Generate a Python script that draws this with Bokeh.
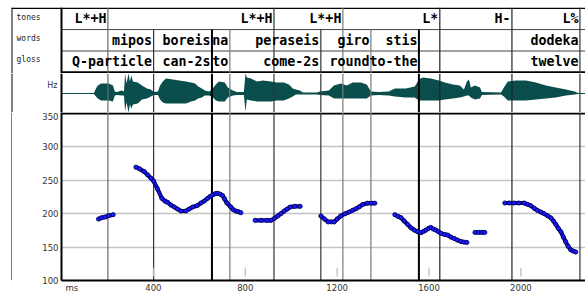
from bokeh.plotting import figure
from bokeh.layouts import column, row
from bokeh.models import Range1d, FixedTicker
from bokeh.core.properties import value
from bokeh.embed import file_html
from bokeh.resources import INLINE

# ---------------- data ----------------
TIER_NAMES = ["tones", "words", "gloss"]

TONE_LABELS = ["L*+H", "L*+H", "L*+H", "L*", "H-", "L%"]
TONE_TIMES = [202, 925, 1225, 1647, 1961, 2257]

WORD_LABELS = ["mipos", "boreis", "na", "peraseis", "giro", "stis", "dodeka"]
WORD_ENDS = [401, 655, 733, 1129, 1347, 1556, 2257]

GLOSS_LABELS = ["Q-particle", "can-2s", "to", "come-2s", "round", "to-the", "twelve"]
GLOSS_ENDS = [401, 655, 733, 1129, 1347, 1556, 2257]

WORD_BOUNDARIES = [401, 655, 733, 1129, 1347, 1556]

# waveform envelope (ms, upper amplitude, lower amplitude)
WAVE_MS = [0, 141, 150, 158, 172, 206, 224, 232, 241, 263, 272, 277, 283, 292, 298, 304,
           311, 332, 350, 372, 389, 402, 420, 429, 441, 455, 485, 512, 542, 564, 582, 595,
           611, 624, 642, 655, 672, 685, 711, 724, 746, 764, 794, 801, 807, 825, 851, 877,
           912, 938, 968, 990, 1007, 1020, 1038, 1051, 1112, 1125, 1164, 1186, 1216, 1242,
           1268, 1303, 1329, 1347, 1381, 1425, 1451, 1499, 1538, 1556, 1573, 1608, 1643,
           1669, 1704, 1734, 1752, 1765, 1774, 1782, 1800, 1822, 1830, 1913, 1926, 1943,
           1978, 2022, 2065, 2109, 2152, 2196, 2235, 2248, 2283]
WAVE_TOP = [0.5, 0.5, 5, 8, 10, 10, 8, 2, 1.5, 3, 2, 20, 10, 20, 12, 18,
            12, 11, 8, 5, 4, 1.5, 2, 8, 12, 15, 14, 13, 12, 11, 10, 7,
            5, 3, 2, 4, 9, 12, 11, 6, 3, 1.5, 1.5, 20, 16, 15, 12, 13,
            12, 11, 11, 9, 5, 4, 3, 1, 1, 2, 3, 8, 10, 8,
            11, 11, 9, 2, 1.5, 2, 5, 5, 7, 14, 16, 15, 13,
            11, 9, 8, 4, 12, 14, 6, 8, 6, 1.5, 1, 6, 12,
            13, 13, 11, 8, 6, 4, 2, 0.5, 0.5]
WAVE_BOT = [0.5, 0.5, 3, 5, 7, 7, 8, 2, 1.5, 2, 2, 18, 9, 19, 11, 15,
            11, 10, 6, 5, 3, 1.5, 1.5, 6, 9, 10, 10, 10, 10, 8, 7, 5,
            4, 2, 2, 3, 7, 8, 8, 4, 2, 1.5, 1.5, 18, 6, 7, 8, 8,
            8, 7, 7, 5, 3, 1, 1, 1, 1, 1.5, 2, 5, 5, 5,
            5, 5, 5, 2, 1.5, 2, 3, 4, 4, 7, 7, 7, 7,
            6, 5, 4, 3, 2, 2, 4, 6, 5, 1.5, 1, 3, 7,
            7, 7, 6, 5, 4, 2, 1, 0.5, 0.5]

# pitch track (ms, Hz), one pair of lists per voiced stretch
F0_1_MS = [161, 175, 190, 205, 225]
F0_1_HZ = [192, 194, 195, 197, 198.5]
F0_2_MS = [324, 340, 360, 375, 390, 401, 418, 437, 450, 462, 476, 491, 505, 520, 541, 556,
           571, 590, 607, 622, 636, 648, 658, 670, 680, 692, 701, 710, 720, 737, 748, 759,
           770, 781]
F0_2_HZ = [269.6, 267, 263, 258, 253, 249, 237, 223, 219, 217, 213, 210, 207, 204, 204, 207,
           210, 212, 216, 219, 223, 226, 228, 230, 230.5, 229, 227, 222, 216, 210, 206, 204,
           203, 201.5]
F0_3_MS = [843, 870, 895, 912, 927, 941, 955, 970, 983, 996, 1015, 1039]
F0_3_HZ = [190, 190, 190, 190, 193, 196.6, 200, 204, 207, 210, 211, 211]
F0_4_MS = [1129, 1145, 1161, 1175, 1187, 1200, 1216, 1235, 1252, 1267, 1282, 1297, 1311,
           1332, 1350, 1364]
F0_4_HZ = [196.6, 192, 187.7, 187.7, 187.7, 192, 196.6, 200, 202.5, 205, 207.4, 210.5,
           213.7, 215.7, 215.7, 215.7]
F0_5_MS = [1451, 1465, 1478, 1492, 1507, 1521, 1536, 1550, 1565, 1576, 1587, 1598, 1608,
           1619, 1630, 1641, 1652, 1667, 1681, 1695, 1709, 1724, 1739, 1752, 1765]
F0_5_HZ = [198.5, 196, 194, 189, 184, 179, 175.5, 173, 171.6, 173.5, 175.5, 178, 179.4,
           177, 175.5, 173, 170.6, 169, 168, 165, 163, 160.5, 158.4, 157.5, 157]
F0_6_MS = [1800, 1815, 1830, 1843]
F0_6_HZ = [172, 172, 172, 172]
F0_7_MS = [1930, 1950, 1970, 1990, 2014, 2029, 2043, 2058, 2072, 2087, 2101, 2116, 2131,
           2142, 2152, 2163, 2174, 2185, 2195, 2206, 2217, 2228, 2239]
F0_7_HZ = [216, 216, 216, 216, 216, 214, 212, 208, 205, 202.5, 200, 197, 193.6, 189, 184,
           178, 173, 165, 158, 151, 146, 144, 142.6]

HZ_TICKS = [100, 150, 200, 250, 300, 350]
MS_TICKS = [400, 800, 1200, 1600, 2000]

# ---------------- layout constants / styles ----------------
PX_PER_MS = 0.2297
LABEL_COL = 50
PLOT_W = 524
X_LEFT = -LABEL_COL / PX_PER_MS
X_RIGHT = PLOT_W / PX_PER_MS
PITCH_FRAME_H = 171
HZ_PER_PX = 1 / 0.68
HZ_TOP = 100 + PITCH_FRAME_H * HZ_PER_PX

TONE_COLORS = ["#6a6a6a", "#333333", "#7a7a7a", "#222222", "#222222", "#333333"]
TONE_WIDTHS = [1.2, 1.2, 1.2, 1.2, 1.2, 1.2]
WORD_COLORS = ["#333333", "#000000", "#7a7a7a", "#333333", "#7a7a7a", "#000000"]
WORD_WIDTHS = [1.2, 2, 1.2, 1.2, 1.2, 2]

MONO = value("DejaVu Sans Mono")
SANS = value("DejaVu Sans")
WAVE_COLOR = "#0a4d4d"


def base(width, height, x_range, y_range):
    p = figure(width=width, height=height, x_range=x_range, y_range=y_range,
               output_backend="svg", toolbar_location=None,
               x_axis_type=None, y_axis_type=None)
    p.min_border = 0
    p.outline_line_color = None
    p.background_fill_color = "white"
    p.border_fill_color = "white"
    p.grid.visible = False
    return p


# ---------------- tiers ----------------
T_Y0, T_Y1 = -0.05, 3.03
tier = base(585, 73, Range1d(X_LEFT, X_RIGHT), Range1d(T_Y0, T_Y1))
tier.min_border_left = 11
tier.min_border_top = 7
tier.segment(x0=[X_LEFT], y0=[3], x1=[X_RIGHT], y1=[3], line_color="black", line_width=1.5)
tier.segment(x0=[X_LEFT], y0=[T_Y0], x1=[X_LEFT], y1=[T_Y1], line_color="black", line_width=2)
tier.segment(x0=[0, 0], y0=[1, 2], x1=[X_RIGHT, X_RIGHT], y1=[1, 2], line_color="#444444", line_width=1)
tier.segment(x0=[0], y0=[0], x1=[X_RIGHT], y1=[0], line_color="black", line_width=2.2)
tier.segment(x0=[0], y0=[T_Y0], x1=[0], y1=[T_Y1], line_color="black", line_width=2)
tier.segment(x0=TONE_TIMES, y0=[T_Y0] * len(TONE_TIMES), x1=TONE_TIMES, y1=[T_Y1] * len(TONE_TIMES),
             line_color=TONE_COLORS, line_width=TONE_WIDTHS)
tier.segment(x0=WORD_BOUNDARIES, y0=[T_Y0] * len(WORD_BOUNDARIES), x1=WORD_BOUNDARIES,
             y1=[2] * len(WORD_BOUNDARIES), line_color=WORD_COLORS, line_width=WORD_WIDTHS)
tier.text(x=[X_LEFT + 5 / PX_PER_MS] * 3, y=[2.58, 1.6, 0.6], text=TIER_NAMES,
          text_font=MONO, text_font_size="8px", text_baseline="middle", text_color="#222222")
for labels, ends, yc in ((TONE_LABELS, TONE_TIMES, 2.5), (WORD_LABELS, WORD_ENDS, 1.5),
                         (GLOSS_LABELS, GLOSS_ENDS, 0.5)):
    tier.text(x=ends, y=[yc] * len(ends), text=labels, text_font=MONO, text_font_size="13.3px",
              text_font_style="bold", text_align="right", text_baseline="middle",
              x_offset=-1.5, text_color="black")

# ---------------- waveform ----------------
wave = base(585, 39, Range1d(X_LEFT, X_RIGHT), Range1d(-19, 20))
wave.min_border_left = 11
wave.segment(x0=[X_LEFT], y0=[-19], x1=[X_LEFT], y1=[20], line_color="black", line_width=2)
wave.segment(x0=[0], y0=[0], x1=[X_RIGHT], y1=[0], line_color="#4a7a7a", line_width=1)
wave.varea(x=WAVE_MS, y1=[-b for b in WAVE_BOT], y2=WAVE_TOP, fill_color=WAVE_COLOR)
wave.segment(x0=[0], y0=[-19], x1=[0], y1=[20], line_color="black", line_width=2)
wave.segment(x0=TONE_TIMES, y0=[-19] * len(TONE_TIMES), x1=TONE_TIMES, y1=[20] * len(TONE_TIMES),
             line_color=TONE_COLORS, line_width=TONE_WIDTHS)
wave.segment(x0=WORD_BOUNDARIES, y0=[-19] * len(WORD_BOUNDARIES), x1=WORD_BOUNDARIES,
             y1=[20] * len(WORD_BOUNDARIES), line_color=WORD_COLORS, line_width=WORD_WIDTHS)
wave.text(x=[-4 / PX_PER_MS], y=[8.5], text=["Hz"], text_font=SANS, text_font_size="8px",
          text_align="right", text_baseline="middle", text_color="#333333")

# ---------------- pitch ----------------
pitch = figure(width=573, height=183, x_range=Range1d(0, X_RIGHT), y_range=Range1d(100, HZ_TOP),
               output_backend="svg", toolbar_location=None)
pitch.min_border = 0
pitch.min_border_left = 49
pitch.min_border_bottom = 12
pitch.outline_line_color = None
pitch.border_fill_color = "white"
pitch.xgrid.visible = False
pitch.ygrid.ticker = FixedTicker(ticks=HZ_TICKS[1:-1])
pitch.ygrid.grid_line_color = "#c4c4c4"
pitch.ygrid.grid_line_width = 1.6

pitch.yaxis.ticker = FixedTicker(ticks=HZ_TICKS)
pitch.xaxis.ticker = FixedTicker(ticks=[45] + MS_TICKS)
pitch.xaxis.major_label_overrides = {45: "ms"}
for ax in (pitch.xaxis[0], pitch.yaxis[0]):
    ax.major_tick_line_color = None
    ax.minor_tick_line_color = None
    ax.major_tick_out = 0
    ax.major_tick_in = 0
    ax.axis_line_color = "black"
    ax.axis_line_width = 2
    ax.major_label_text_font = "DejaVu Sans"
    ax.major_label_text_font_size = "8.5px"
    ax.major_label_text_color = "#333333"
pitch.yaxis.major_label_standoff = 3
pitch.xaxis.major_label_standoff = 2

pitch.segment(x0=[0], y0=[350], x1=[X_RIGHT], y1=[350], line_color="black", line_width=2.2)
pitch.segment(x0=TONE_TIMES, y0=[100] * len(TONE_TIMES), x1=TONE_TIMES, y1=[HZ_TOP] * len(TONE_TIMES),
              line_color=TONE_COLORS, line_width=TONE_WIDTHS)
pitch.segment(x0=WORD_BOUNDARIES, y0=[100] * len(WORD_BOUNDARIES), x1=WORD_BOUNDARIES,
              y1=[HZ_TOP] * len(WORD_BOUNDARIES), line_color=WORD_COLORS, line_width=WORD_WIDTHS)
pitch.segment(x0=MS_TICKS, y0=[106] * len(MS_TICKS), x1=MS_TICKS, y1=[119] * len(MS_TICKS),
              line_color="#b8b8b8", line_width=1.2)

for ms, hz in ((F0_1_MS, F0_1_HZ), (F0_2_MS, F0_2_HZ), (F0_3_MS, F0_3_HZ), (F0_4_MS, F0_4_HZ),
               (F0_5_MS, F0_5_HZ), (F0_6_MS, F0_6_HZ), (F0_7_MS, F0_7_HZ)):
    pitch.line(ms, hz, line_color="#00005a", line_width=4.2)
    pitch.line(ms, hz, line_color="#1414e6", line_width=2.2)
    pitch.scatter(ms, hz, size=4.2, fill_color="#1a1aff", line_color="#00005a", line_width=0.8)

# left outer border beside the pitch panel
edge = base(12, 183, Range1d(0, 12), Range1d(0, 1))
edge.segment(x0=[11.5], y0=[0], x1=[11.5], y1=[1], line_color="black", line_width=1)

layout = column(tier, wave, row(edge, pitch, spacing=0), spacing=0)

open("out.html", "w").write(file_html(layout, INLINE))
